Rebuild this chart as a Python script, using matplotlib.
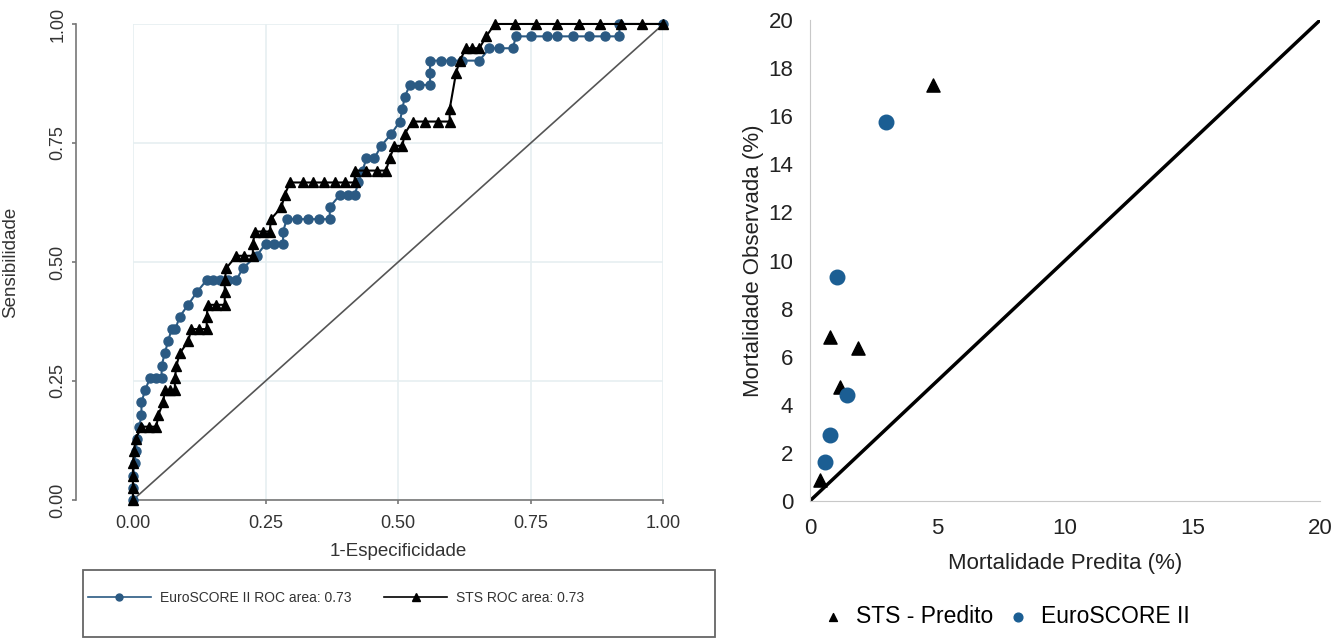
import matplotlib
matplotlib.use("Agg")
import matplotlib.pyplot as plt
from matplotlib.lines import Line2D
from matplotlib.patches import Rectangle

plt.rcParams['font.family'] = ['Liberation Sans', 'DejaVu Sans']

# ROC curve - EuroSCORE II
euro_fpr = [0, 0, 0, 0.003, 0.005, 0.008, 0.012, 0.016, 0.016, 0.023, 0.032, 0.043, 0.054,
            0.054, 0.06, 0.066, 0.073, 0.08, 0.088, 0.104, 0.12, 0.139, 0.15, 0.165, 0.18,
            0.195, 0.207, 0.233, 0.25, 0.265, 0.283, 0.283, 0.29, 0.31, 0.33, 0.35, 0.371,
            0.371, 0.39, 0.405, 0.418, 0.425, 0.433, 0.44, 0.455, 0.468, 0.487, 0.503, 0.508,
            0.512, 0.522, 0.54, 0.56, 0.56, 0.56, 0.58, 0.60, 0.62, 0.653, 0.672, 0.69, 0.716,
            0.722, 0.75, 0.78, 0.80, 0.83, 0.86, 0.89, 0.917, 0.917, 1.0]
euro_tpr = [0, 0.026, 0.051, 0.077, 0.103, 0.128, 0.154, 0.179, 0.205, 0.231, 0.256, 0.256, 0.256,
            0.282, 0.308, 0.333, 0.359, 0.359, 0.385, 0.41, 0.436, 0.462, 0.462, 0.462, 0.462,
            0.462, 0.487, 0.513, 0.538, 0.538, 0.538, 0.564, 0.59, 0.59, 0.59, 0.59, 0.59,
            0.615, 0.641, 0.641, 0.641, 0.667, 0.692, 0.718, 0.718, 0.744, 0.769, 0.795, 0.821,
            0.846, 0.872, 0.872, 0.872, 0.897, 0.923, 0.923, 0.923, 0.923, 0.923, 0.949, 0.949, 0.949,
            0.974, 0.974, 0.974, 0.974, 0.974, 0.974, 0.974, 0.974, 1.0, 1.0]

# ROC curve - STS
sts_fpr = [0, 0, 0, 0, 0.002, 0.005, 0.016, 0.03, 0.044, 0.048, 0.057, 0.06, 0.07, 0.079,
           0.079, 0.082, 0.088, 0.104, 0.11, 0.125, 0.139, 0.139, 0.141, 0.157, 0.173, 0.173,
           0.173, 0.176, 0.195, 0.21, 0.226, 0.226, 0.23, 0.245, 0.258, 0.26, 0.28, 0.286,
           0.296, 0.32, 0.34, 0.36, 0.38, 0.40, 0.418, 0.418, 0.44, 0.46, 0.477, 0.484, 0.493,
           0.508, 0.512, 0.527, 0.55, 0.575, 0.597, 0.597, 0.609, 0.616, 0.628, 0.64, 0.653,
           0.666, 0.682, 0.72, 0.76, 0.80, 0.84, 0.88, 0.92, 0.96, 1.0]
sts_tpr = [0, 0.026, 0.051, 0.077, 0.103, 0.128, 0.154, 0.154, 0.154, 0.179, 0.205, 0.231, 0.231, 0.231,
           0.256, 0.282, 0.308, 0.333, 0.359, 0.359, 0.359, 0.385, 0.41, 0.41, 0.41, 0.436,
           0.462, 0.487, 0.513, 0.513, 0.513, 0.538, 0.564, 0.564, 0.564, 0.59, 0.615, 0.641,
           0.667, 0.667, 0.667, 0.667, 0.667, 0.667, 0.667, 0.692, 0.692, 0.692, 0.692, 0.718, 0.744,
           0.744, 0.769, 0.795, 0.795, 0.795, 0.795, 0.821, 0.897, 0.923, 0.949, 0.949, 0.949,
           0.974, 1.0, 1.0, 1.0, 1.0, 1.0, 1.0, 1.0, 1.0, 1.0]

# calibration: predicted vs observed mortality (%)
sts_pred = [0.4, 0.78, 1.18, 1.89, 4.83]
sts_obs = [0.87, 6.83, 4.75, 6.36, 17.3]
euro_pred = [0.59, 0.81, 1.46, 1.06, 2.98]
euro_obs = [1.63, 2.74, 4.41, 9.33, 15.77]

blue_roc = '#2b5a83'
blue_pts = '#1b5e93'

fig = plt.figure(figsize=(13.43, 6.41), dpi=100)

# ---- left: ROC (stata-like) ----
ax1 = fig.add_axes([0.099, 0.22, 0.395, 0.7426])
ax1.plot([0, 1], [0, 1], color='#555555', lw=1.2, zorder=2)
ax1.plot(euro_fpr, euro_tpr, color=blue_roc, marker='o', ms=6.5, lw=1.5, clip_on=False, zorder=3)
ax1.plot(sts_fpr, sts_tpr, color='black', marker='^', ms=7.5, lw=1.5, clip_on=False, zorder=4)
ax1.set_xlim(0, 1)
ax1.set_ylim(0, 1)
ticks = [0, 0.25, 0.5, 0.75, 1.0]
ax1.set_xticks(ticks)
ax1.set_yticks(ticks)
ax1.set_xticklabels(['0.00', '0.25', '0.50', '0.75', '1.00'])
ax1.set_yticklabels(['0.00', '0.25', '0.50', '0.75', '1.00'])
ax1.grid(True, color='#e6eff1', lw=1.2)
ax1.spines['top'].set_visible(False)
ax1.spines['right'].set_visible(False)
ax1.spines['left'].set_position(('outward', 41))   # points
for s in ['left', 'bottom']:
    ax1.spines[s].set_color('#777777')
    ax1.spines[s].set_linewidth(1.2)
ax1.tick_params(axis='both', direction='out', length=3, width=1.2, color='#777777',
                labelcolor='#333333', labelsize=13, pad=3)
ax1.tick_params(axis='x', pad=8)
ax1.tick_params(axis='y', labelrotation=90, pad=4)
for lab in ax1.get_yticklabels():
    lab.set_va('center')
ax1.set_xlabel('1-Especificidade', fontsize=13.5, color='#333333', labelpad=8)
ax1.set_ylabel('Sensibilidade', fontsize=13.5, color='#333333')
ax1.yaxis.set_label_coords(-0.215, 0.5)

fig.patches.append(Rectangle((83 / 1343, 1 - 637 / 641), 632 / 1343, 67 / 641,
                             transform=fig.transFigure, fill=False, edgecolor='#666666', lw=1.3))
h1 = Line2D([], [], color=blue_roc, marker='o', ms=5, lw=1.2)
h2 = Line2D([], [], color='black', marker='^', ms=6, lw=1.2)
leg1 = fig.legend([h1, h2], ['EuroSCORE II ROC area: 0.73', 'STS ROC area: 0.73'],
                  ncol=2, loc='upper left', bbox_to_anchor=(88 / 1343, 1 - 591 / 641),
                  fontsize=10, frameon=False, handlelength=4.5, handletextpad=0.65,
                  columnspacing=2.4, borderpad=0, borderaxespad=0)
for t in leg1.get_texts():
    t.set_color('#333333')

# ---- right: calibration ----
ax2 = fig.add_axes([0.603, 0.2184, 0.380, 0.7504])
ax2.plot([0, 20], [0, 20], color='black', lw=2.5, zorder=2)
ax2.scatter(sts_pred, sts_obs, marker='^', s=90, color='black', zorder=3, label='STS - Predito')
ax2.scatter(euro_pred, euro_obs, marker='o', s=110, color=blue_pts, zorder=3, label='EuroSCORE II')
ax2.set_xlim(0, 20)
ax2.set_ylim(0, 20)
ax2.set_xticks([0, 5, 10, 15, 20])
ax2.set_yticks(range(0, 21, 2))
ax2.spines['top'].set_visible(False)
ax2.spines['right'].set_visible(False)
ax2.spines['left'].set_color('#c8c8c8')
ax2.spines['bottom'].set_color('#c8c8c8')
ax2.tick_params(axis='both', length=0, labelsize=16, labelcolor='#222222', pad=12)
ax2.set_xlabel('Mortalidade Predita (%)', fontsize=16, color='#222222', labelpad=10)
ax2.set_ylabel('Mortalidade Observada (%)', fontsize=16, color='#222222')
ax2.yaxis.set_label_coords(-0.09, 0.5)
ax2.legend(loc='center', bbox_to_anchor=(0.373, -0.24), ncol=2, frameon=False, fontsize=16.5,
           handletextpad=0.0, columnspacing=0.1, markerscale=0.6)

fig.savefig('out.png', dpi=100)
